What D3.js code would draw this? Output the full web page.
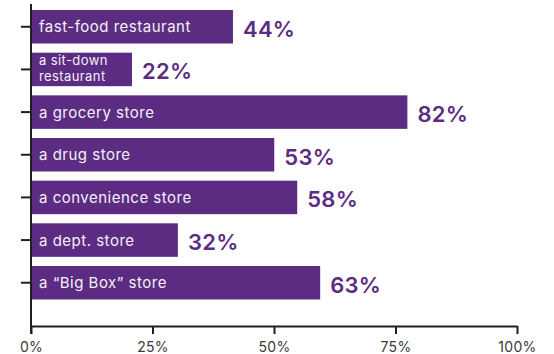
<!DOCTYPE html>
<html>
<head>
<meta charset="utf-8">
<script src="https://cdn.jsdelivr.net/npm/d3@7"></script>
<style>
  html, body { margin: 0; padding: 0; background: #fff; }
  svg { display: block; }
</style>
</head>
<body>
<svg id="chart" width="554" height="354"></svg>
<script>
// Where people shop for food, share of respondents
const categories = [
  ["fast-food restaurant"],
  ["a sit-down", "restaurant"],
  ["a grocery store"],
  ["a drug store"],
  ["a convenience store"],
  ["a dept. store"],
  ["a \u201CBig Box\u201D store"]
];
const values = [44, 22, 82, 53, 58, 32, 63];
const tickValues = [0, 25, 50, 75, 100];
const tickLabels = ["0%", "25%", "50%", "75%", "100%"];

const purple = "#5c2c82";
const ink = "#231f20";
const font = "Inter, 'Open Sans', sans-serif";

const svg = d3.select("#chart");
const x0 = 31;

// bar lengths and the printed axis use their own ranges
const x = d3.scaleLinear().domain([0, 100]).range([x0, 490]);
const axisX = d3.scaleLinear().domain([0, 100]).range([x0, 517]);

const y = d3.scaleBand()
  .domain(d3.range(values.length))
  .range([4.9, 304.6])
  .paddingInner(0.215)
  .paddingOuter(0.12);

// bars
const g = svg.append("g");
const rows = g.selectAll("g.row").data(values).join("g").attr("class", "row");

rows.append("rect")
  .attr("x", x(0))
  .attr("y", (d, i) => y(i))
  .attr("width", d => x(d) - x(0))
  .attr("height", y.bandwidth())
  .attr("fill", purple);

// category names inside bars; two-line names get a smaller size
rows.each(function (d, i) {
  const lines = categories[i];
  const cy = y(i) + y.bandwidth() / 2;
  const row = d3.select(this);
  const offsets = lines.length === 1 ? [5.5] : [-4, 12];
  lines.forEach((line, k) => {
    row.append("text")
      .attr("x", x(0) + 8)
      .attr("y", cy + offsets[k])
      .attr("font-family", font)
      .attr("font-size", lines.length === 1 ? 15 : 13)
      .attr("letter-spacing", lines.length === 1 ? 0.5 : 0.4)
      .attr("fill", "#f4eff8")
      .text(line);
  });
});

// value labels
rows.append("text")
  .attr("x", d => x(d) + 10)
  .attr("y", (d, i) => y(i) + y.bandwidth() / 2 + 10)
  .attr("font-family", font)
  .attr("font-size", 22)
  .attr("font-weight", 600)
  .attr("letter-spacing", 0.3)
  .attr("fill", purple)
  .text(d => d + "%");

// bottom axis
const axisY = 326;
const xAxis = svg.append("g")
  .attr("transform", `translate(0,${axisY})`)
  .call(d3.axisBottom(axisX)
    .tickValues(tickValues)
    .tickFormat((d, i) => tickLabels[i])
    .tickSizeInner(8)
    .tickSizeOuter(0)
    .tickPadding(8));
xAxis.select(".domain").attr("stroke", ink).attr("stroke-width", 2);
xAxis.selectAll(".tick line").attr("stroke", ink).attr("stroke-width", 2);
xAxis.selectAll(".tick text")
  .attr("font-family", font)
  .attr("font-size", 14)
  .attr("letter-spacing", 0.3)
  .attr("fill", "#3a3a3a");

// left axis with category ticks
const yAxis = svg.append("g")
  .attr("transform", `translate(${x0},0)`)
  .call(d3.axisLeft(y).tickSizeInner(10).tickSizeOuter(0).tickFormat(""));
yAxis.select(".domain").remove();
yAxis.append("line")
  .attr("x1", 0).attr("x2", 0)
  .attr("y1", 4).attr("y2", axisY + 8)
  .attr("stroke", ink).attr("stroke-width", 2);
yAxis.selectAll(".tick line").attr("stroke", ink).attr("stroke-width", 2);
</script>
</body>
</html>
